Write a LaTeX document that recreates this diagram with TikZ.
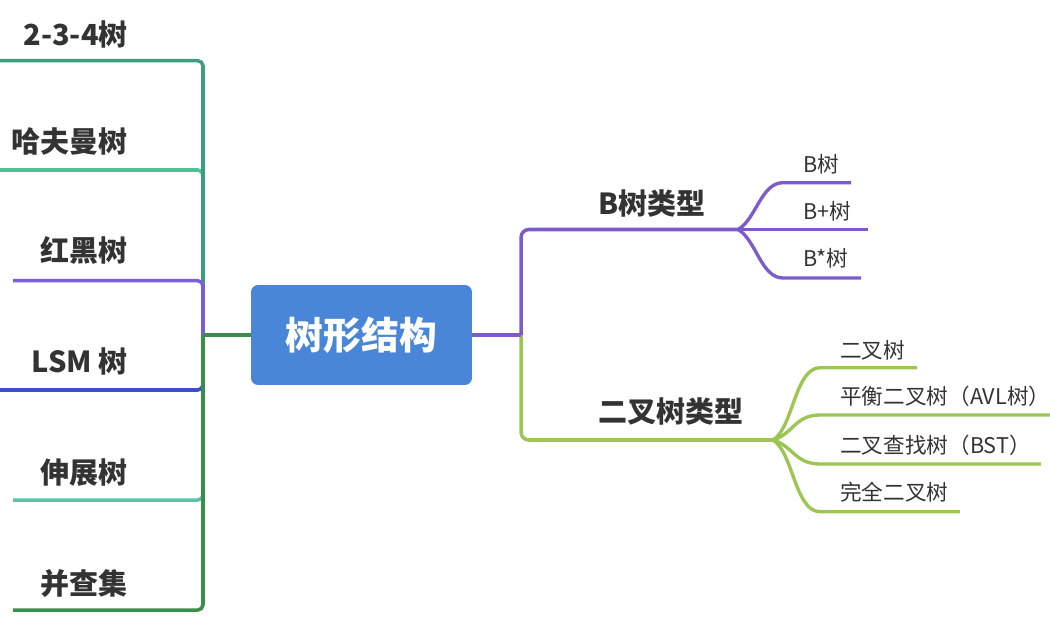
\documentclass[tikz,border=0pt]{standalone}
\usepackage{fontspec}
\setmainfont{Noto Sans CJK SC}
\usetikzlibrary{positioning}

\definecolor{cTwo}{HTML}{3D9D7E}
\definecolor{cHuff}{HTML}{4EC293}
\definecolor{cRB}{HTML}{7B5FD8}
\definecolor{cLSM}{HTML}{3B4EC6}
\definecolor{cSplay}{HTML}{5DC1A6}
\definecolor{cUF}{HTML}{3A8E4C}
\definecolor{cBtree}{HTML}{7D5BCB}
\definecolor{cBin}{HTML}{9CC552}
\definecolor{cRoot}{HTML}{4A86D8}
\definecolor{cText}{HTML}{333333}

\begin{document}
\begin{tikzpicture}[
  x=0.02cm, y=-0.02cm,
  topic/.style={text=cText, font=\fontsize{16.5}{18}\selectfont\bfseries, anchor=base, inner sep=0pt},
  leaf/.style={text=cText, font=\fontsize{12.3}{14}\selectfont, anchor=base west, inner sep=0pt},
  branch/.style={line width=2pt, rounded corners=3pt},
  bigbranch/.style={line width=2pt, rounded corners=4.5pt},
  twig/.style={line width=1.9pt}]
\useasboundingbox (0,0) rectangle (1050,625);

\node[fill=cRoot, rounded corners=4pt, minimum width=4.42cm, minimum height=2cm, text=white, font=\fontsize{21.5}{24}\selectfont\bfseries] (root) at (361.5,335) {树形结构};

% left side
\coordinate (ltrunk) at (203,335);
\node[topic, anchor=base east] (t234) at (128,46) {2-3-4树};
\node[topic, anchor=base east] (huff) at (128,152.7) {哈夫曼树};
\node[topic, anchor=base east] (rb) at (128,261) {红黑树};
\node[topic, anchor=base east] (lsm) at (128,372.7) {LSM 树};
\node[topic, anchor=base east] (splay) at (128,483.7) {伸展树};
\node[topic, anchor=base east] (uf) at (128,594) {并查集};
\coordinate (t234-end) at (0,60.7);
\coordinate (huff-end) at (0,170);
\coordinate (rb-end) at (13,280.7);
\coordinate (lsm-end) at (0,390);
\coordinate (splay-end) at (13,500);
\coordinate (uf-end) at (13,610);

\draw[cHuff, branch] (ltrunk) |- (huff-end);
\draw[cTwo, branch] (ltrunk) |- (t234-end);
\draw[cRB, branch] (ltrunk) |- (rb-end);
\draw[cLSM, branch] (ltrunk) |- (lsm-end);
\draw[cSplay, branch] (ltrunk) |- (splay-end);
\draw[cUF, branch] (ltrunk) |- (uf-end);
\draw[cUF, branch] (root.west) -- (ltrunk);

% right side
\coordinate (rtrunk) at (521,335);
\node[topic] (btype) at (652,214) {B树类型};
\node[topic] (bintype) at (671,422.7) {二叉树类型};
\coordinate (bsplit) at (738,229.5);
\coordinate (binsplit) at (773,440);

\draw[cBin, bigbranch] (rtrunk) |- (binsplit);
\draw[cBtree, bigbranch] (rtrunk) |- (bsplit);
\draw[cBtree, branch] (root.east) -- (rtrunk);

% B tree leaves
\node[leaf] (b1) at (803,172) {B树};
\node[leaf] (b2) at (803,219) {B+树};
\node[leaf] (b3) at (803,266) {B*树};
\coordinate (b1a) at (783,182.7);
\coordinate (b1b) at (851,182.7);
\coordinate (b2b) at (868,229.5);
\coordinate (b3a) at (783,278);
\coordinate (b3b) at (861,278);
\draw[cBtree, twig] (bsplit) .. controls +(18,-10) and +(-22,0) .. (b1a) -- (b1b);
\draw[cBtree, twig] (bsplit) -- (b2b);
\draw[cBtree, twig] (bsplit) .. controls +(18,10) and +(-22,0) .. (b3a) -- (b3b);

% binary tree leaves
\node[leaf] (n1) at (840,358) {二叉树};
\node[leaf] (n2) at (840,404.7) {平衡二叉树（AVL树）};
\node[leaf] (n3) at (840,453) {二叉查找树（BST）};
\node[leaf] (n4) at (840,500) {完全二叉树};
\coordinate (n1a) at (820,367.7);
\coordinate (n1b) at (917,367.7);
\coordinate (n2a) at (820,415);
\coordinate (n2b) at (1050,415);
\coordinate (n3a) at (820,464);
\coordinate (n3b) at (1041,464);
\coordinate (n4a) at (820,511.7);
\coordinate (n4b) at (960,511.7);
\draw[cBin, twig] (binsplit) .. controls +(20,-12) and +(-25,0) .. (n1a) -- (n1b);
\draw[cBin, twig] (binsplit) .. controls +(20,-6) and +(-25,0) .. (n2a) -- (n2b);
\draw[cBin, twig] (binsplit) .. controls +(20,6) and +(-25,0) .. (n3a) -- (n3b);
\draw[cBin, twig] (binsplit) .. controls +(20,12) and +(-25,0) .. (n4a) -- (n4b);
\end{tikzpicture}
\end{document}
